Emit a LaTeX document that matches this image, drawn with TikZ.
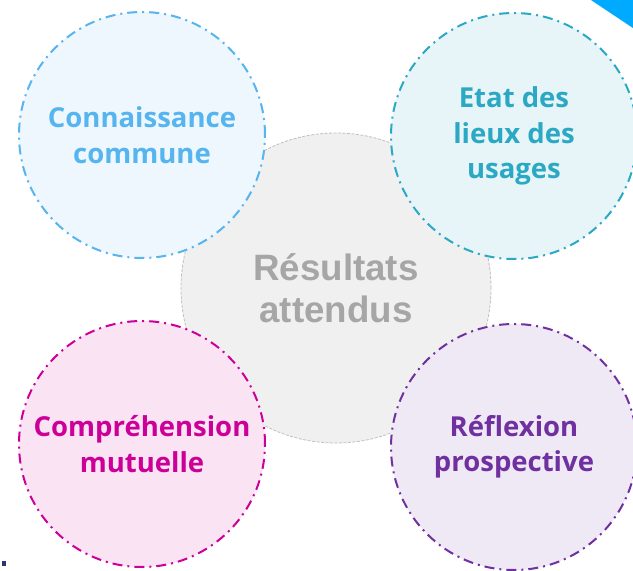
\documentclass[tikz,border=0pt]{standalone}
\usepackage{fontspec}
\setmainfont{Open Sans}
\newfontfamily\resultfont{Liberation Sans}
\usetikzlibrary{positioning}

\definecolor{knowblue}{RGB}{86,180,239}
\definecolor{knowfill}{RGB}{238,247,253}
\definecolor{statetext}{RGB}{43,168,196}
\definecolor{statefill}{RGB}{231,245,248}
\definecolor{mutualtext}{RGB}{204,0,153}
\definecolor{mutualfill}{RGB}{250,228,244}
\definecolor{prosptext}{RGB}{112,48,160}
\definecolor{prospfill}{RGB}{239,233,245}
\definecolor{resgray}{RGB}{166,166,166}
\definecolor{resfill}{RGB}{240,240,240}
\definecolor{resline}{RGB}{191,191,191}
\definecolor{cornerblue}{RGB}{0,170,255}
\definecolor{dotnavy}{RGB}{46,52,112}

\tikzset{
	result/.style={circle, minimum size=310pt, inner sep=0pt, draw=resline, fill=resfill,
		line width=0.8pt, dash pattern=on 3pt off 1.5pt, text=resgray, align=center,
		font=\resultfont\bfseries\fontsize{36.7}{42}\selectfont},
	outcome/.style={circle, minimum size=246pt, inner sep=0pt, line width=2pt,
		dash pattern=on 10pt off 5pt on 2pt off 5pt, align=center,
		font=\bfseries\fontsize{27.5}{35.5}\selectfont}
}

\begin{document}
\begin{tikzpicture}[x=1pt, y=1pt]
	\useasboundingbox (0,0) rectangle (633,-571);
	\fill[cornerblue] (591,0) -- (633,0) -- (633,-28) -- cycle;
	\fill[dotnavy] (2,-561) rectangle (6,-566);
	
	\node[result] (results) at (336,-288) {Résultats\\attendus};
	
	\node[outcome, draw=knowblue, fill=knowfill, text=knowblue] (knowledge)
	at ([shift={(-194,153)}]results.center) {Connaissance\\commune};
	\node[outcome, draw=statetext, fill=statefill, text=statetext] (usages)
	at ([shift={(178,152)}]results.center) {Etat des\\lieux des\\usages};
	\node[outcome, draw=mutualtext, fill=mutualfill, text=mutualtext] (understanding)
	at ([shift={(-194,-156)}]results.center) {Compréhension\\mutuelle};
	\node[outcome, draw=prosptext, fill=prospfill, text=prosptext] (foresight)
	at ([shift={(178,-159)}]results.center) {Réflexion\\prospective};
\end{tikzpicture}
\end{document}
